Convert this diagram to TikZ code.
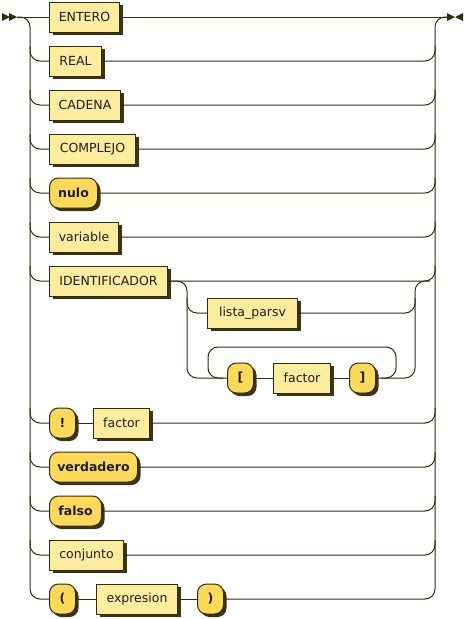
\documentclass[tikz,border=0pt]{standalone}
\usepackage{fontspec}
\setmainfont{DejaVu Sans}
\usetikzlibrary{shadows,calc}
\definecolor{ntfill}{HTML}{FEEC9F}
\definecolor{tfill}{HTML}{FED95B}
\definecolor{edgecol}{HTML}{332B0A}
\definecolor{shade}{HTML}{3B3516}
\definecolor{txt}{HTML}{1E1E1E}
\newcommand\lbr[2]{\draw[wire] ($(#1 |- #2.west)+(0,-15)$) -- (#1 |- #2.west) -- (#2.west);}
\newcommand\rbr[2]{\draw[wire] (#2.east) -- (#1 |- #2.east) -- ($(#1 |- #2.east)+(0,-15)$);}
\begin{document}
\begin{tikzpicture}[x=1pt,y=-1pt,
  box/.style={draw=edgecol, line width=1pt, minimum height=30pt, anchor=west, inner sep=0pt,
    text=txt, font=\fontsize{12.5}{14}\selectfont,
    drop shadow={shadow xshift=3pt, shadow yshift=-3pt, fill=shade, opacity=1}},
  nt/.style={box, fill=ntfill},
  term/.style={box, fill=tfill, rounded corners=9pt, font=\fontsize{12.5}{14}\selectfont\bfseries},
  wire/.style={draw=edgecol, line width=1pt, rounded corners=10pt}]
\useasboundingbox (0,0) rectangle (465,619);
% bus coordinates
\coordinate (st) at (17,17);
\coordinate (en) at (447,17);
\coordinate (busL) at (30,0);
\coordinate (busR) at (435,0);
\coordinate (busIL) at (187,0);
\coordinate (busIR) at (415,0);
\coordinate (loopL) at (208,0);
\coordinate (loopR) at (396,0);
\coordinate (looptop) at (0,347);
% markers
\fill[edgecol] (2,13) -- (10,17) -- (2,21) -- cycle;
\fill[edgecol] (9,13) -- (17,17) -- (9,21) -- cycle;
\fill[edgecol] (447,13) -- (455,17) -- (447,21) -- cycle;
\fill[edgecol] (463,13) -- (455,17) -- (463,21) -- cycle;
% nodes
\node[nt, minimum width=70pt] (entero) at (49,17) {ENTERO};
\node[nt, minimum width=52pt] (real) at (49,61) {REAL};
\node[nt, minimum width=71pt] (cadena) at (49,105) {CADENA};
\node[nt, minimum width=86pt] (complejo) at (49,149) {COMPLEJO};
\node[term, minimum width=48pt] (nulo) at (49,193) {nulo};
\node[nt, minimum width=69pt] (variable) at (49,237) {variable};
\node[nt, minimum width=118pt] (ident) at (49,281) {IDENTIFICADOR};
\node[nt, minimum width=90pt] (lista) at (207,313) {lista\_parsv};
\node[term, minimum width=26pt] (lb) at (227,378) {[};
\node[nt, minimum width=57pt] (lf) at (273,378) {factor};
\node[term, minimum width=26pt] (rb) at (349,378) {]};
\node[term, minimum width=26pt] (bang) at (49,423) {!};
\node[nt, minimum width=56pt] (bf) at (93,423) {factor};
\node[term, minimum width=88pt] (verd) at (49,467) {verdadero};
\node[term, minimum width=52pt] (falso) at (49,511) {falso};
\node[nt, minimum width=74pt] (conj) at (49,555) {conjunto};
\node[term, minimum width=26pt] (lp) at (49,599) {(};
\node[nt, minimum width=81pt] (expr) at (96,599) {expresion};
\node[term, minimum width=26pt] (rp) at (197,599) {)};
% main buses
\draw[wire] (st) -- (entero.west);
\draw[wire] (entero.east) -- (en);
\draw[wire] (st) -- (busL |- st) -- (busL |- lp.west) -- (lp.west);
\draw[wire] (rp.east) -- (busR |- rp.east) -- (busR |- en) -- (en);
% left branches
\lbr{busL}{real}
\lbr{busL}{cadena}
\lbr{busL}{complejo}
\lbr{busL}{nulo}
\lbr{busL}{variable}
\lbr{busL}{ident}
\lbr{busL}{bang}
\lbr{busL}{verd}
\lbr{busL}{falso}
\lbr{busL}{conj}
% right branches
\rbr{busR}{real}
\rbr{busR}{cadena}
\rbr{busR}{complejo}
\rbr{busR}{nulo}
\rbr{busR}{variable}
\rbr{busR}{ident}
\rbr{busR}{bf}
\rbr{busR}{verd}
\rbr{busR}{falso}
\rbr{busR}{conj}
% sequences
\draw[wire] (bang.east) -- (bf.west);
\draw[wire] (lp.east) -- (expr.west);
\draw[wire] (expr.east) -- (rp.west);
\draw[wire] (lb.east) -- (lf.west);
\draw[wire] (lf.east) -- (rb.west);
% inner choice
\draw[wire] (ident.east) -- (busIL |- ident.east) -- (busIL |- lb.west) -- (lb.west);
\lbr{busIL}{lista}
\draw[wire] (rb.east) -- (busIR |- rb.east) -- (busIR |- ident.east) -- ($(busIR |- ident.east)+(15,0)$);
\rbr{busIR}{lista}
% loop
\draw[wire] ($(loopR |- rb.east)+(-15,0)$) -- (loopR |- rb.east) -- (loopR |- looptop) -- (loopL |- looptop) -- (loopL |- lb.west) -- ($(loopL |- lb.west)+(15,0)$);
\end{tikzpicture}
\end{document}
